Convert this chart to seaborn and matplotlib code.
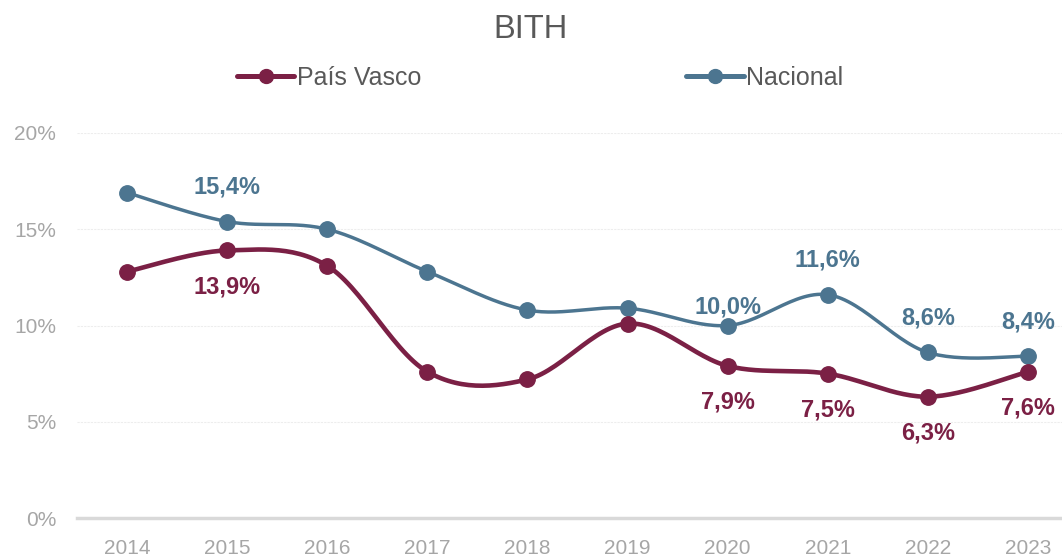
import matplotlib
matplotlib.use('Agg')
import matplotlib.pyplot as plt
from matplotlib.lines import Line2D
import seaborn as sns
import numpy as np
import pandas as pd

years = ['2014', '2015', '2016', '2017', '2018', '2019', '2020', '2021', '2022', '2023']
pais_vasco = [12.8, 13.9, 13.1, 7.6, 7.2, 10.1, 7.9, 7.5, 6.3, 7.6]
nacional = [16.9, 15.4, 15.0, 12.8, 10.8, 10.9, 10.0, 11.6, 8.6, 8.4]
# which points carry a data label
labeled = ['2015', '2020', '2021', '2022', '2023']

c_pv = '#7B2045'
c_nac = '#4C7590'

sns.set_theme(style='white')
plt.rcParams['font.family'] = ['Liberation Sans', 'DejaVu Sans']


def smooth(vals, steps=30):
    # Catmull-Rom style bezier, similar to Excel's smoothed line
    p = np.array(vals, dtype=float)
    x = np.arange(len(p), dtype=float)
    pts = np.column_stack([x, p])
    out = []
    for i in range(len(pts) - 1):
        p0 = pts[max(i - 1, 0)]
        p1 = pts[i]
        p2 = pts[i + 1]
        p3 = pts[min(i + 2, len(pts) - 1)]
        c1 = p1 + (p2 - p0) / 6
        c2 = p2 - (p3 - p1) / 6
        t = np.linspace(0, 1, steps)[:, None]
        seg = (1 - t) ** 3 * p1 + 3 * (1 - t) ** 2 * t * c1 + 3 * (1 - t) * t ** 2 * c2 + t ** 3 * p2
        out.append(seg if i == 0 else seg[1:])
    seg = np.vstack(out)
    return pd.DataFrame({'x': seg[:, 0], 'y': seg[:, 1]})


df = pd.DataFrame({'year': years, 'pv': pais_vasco, 'nac': nacional})
df['pos'] = np.arange(len(years))

fig = plt.figure(figsize=(10.62, 5.57), dpi=100)
ax = fig.add_axes([77 / 1062, 39 / 557, 1001 / 1062, 385 / 557])

for col, color, lw in [('nac', c_nac, 2.5), ('pv', c_pv, 3.3)]:
    curve = smooth(df[col])
    sns.lineplot(data=curve, x='x', y='y', sort=False, color=color, linewidth=lw, ax=ax, zorder=3)
    sns.scatterplot(data=df, x='pos', y=col, color=color, s=125, edgecolor=color, ax=ax, zorder=4)

# data labels
for _, r in df.iterrows():
    if r['year'] not in labeled:
        continue
    off = 13 if r['year'] == '2020' else 25
    ax.annotate(f"{r['nac']:.1f}%".replace('.', ','), (r['pos'], r['nac']), xytext=(0, off),
                textcoords='offset points', ha='center', va='center', fontsize=17,
                fontweight='bold', color=c_nac, zorder=5)
    ax.annotate(f"{r['pv']:.1f}%".replace('.', ','), (r['pos'], r['pv']), xytext=(0, -26),
                textcoords='offset points', ha='center', va='center', fontsize=17,
                fontweight='bold', color=c_pv, zorder=5)

ax.set_xlim(-0.5, len(years) - 0.5)
ax.set_ylim(0, 20)
ax.set_xticks(df['pos'])
ax.set_xticklabels(years)
ax.set_yticks([0, 5, 10, 15, 20])
ax.set_yticklabels(['0%', '5%', '10%', '15%', '20%'])
ax.tick_params(axis='both', length=0, labelsize=15, colors='#A6A6A6')
ax.tick_params(axis='x', pad=15)
ax.tick_params(axis='y', pad=15)
ax.set_xlabel('')
ax.set_ylabel('')
for s in ['top', 'right', 'left']:
    ax.spines[s].set_visible(False)
ax.spines['bottom'].set_color('#D9D9D9')
ax.spines['bottom'].set_linewidth(2.5)
ax.grid(axis='y', color='#EDEDED', linewidth=0.8, linestyle=(0, (2, 1)))
ax.grid(axis='x', visible=False)
ax.set_facecolor('white')

fig.text(0.5, 1 - 30 / 557, 'BITH', ha='center', va='center', fontsize=23.5, color='#595959')

handles = [Line2D([], [], color=c_pv, lw=3.6, marker='o', markersize=10),
           Line2D([], [], color=c_nac, lw=3.6, marker='o', markersize=10)]
fig.legend(handles, ['País Vasco', 'Nacional'], loc='center', bbox_to_anchor=(540 / 1062, 1 - 78 / 557),
           ncol=2, frameon=False, fontsize=18, labelcolor='#595959', handlelength=2.3,
           handletextpad=0.1, columnspacing=10.6)

fig.savefig('out.png', dpi=100, facecolor='white')
